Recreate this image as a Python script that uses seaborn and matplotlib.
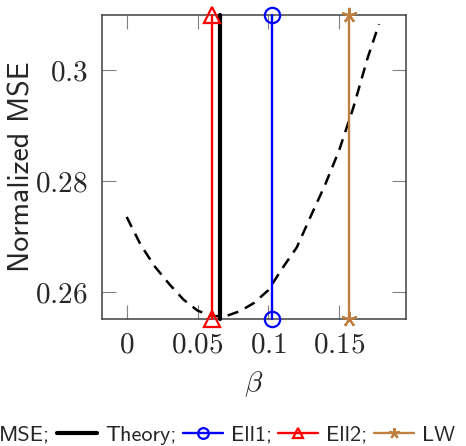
import matplotlib
matplotlib.use("Agg")
import matplotlib.pyplot as plt
import seaborn as sns
import pandas as pd

# dashed MSE curve vs beta
beta = [0.0, 0.01, 0.02, 0.03, 0.04, 0.05, 0.06, 0.07, 0.08, 0.09,
        0.10, 0.11, 0.12, 0.13, 0.14, 0.15, 0.16, 0.17, 0.178]
mse = [0.2735, 0.2684, 0.2645, 0.2614, 0.2586, 0.2566, 0.2556, 0.2556, 0.2565, 0.2580,
       0.2603, 0.2643, 0.2680, 0.2737, 0.2793, 0.2856, 0.2933, 0.3022, 0.3083]

# chosen beta of each method (vertical lines)
methods = ["Theory", "Ell1", "Ell2", "LW"]
method_beta = [0.0659, 0.1024, 0.0605, 0.1568]
method_color = ["black", "blue", "red", "#bf8040"]
method_marker = [None, "o", "^", (5, 2, 0)]

xlim = (-0.0177, 0.197)
ylim = (0.2551, 0.3100)
xticks = [0, 0.05, 0.1, 0.15]
yticks = [0.26, 0.28, 0.30]
xtick_labels = ["$0$", "$0.05$", "$0.1$", "$0.15$"]
ytick_labels = ["$0.26$", "$0.28$", "$0.3$"]

sns.set_style("white")
plt.rcParams["mathtext.fontset"] = "cm"
plt.rcParams["font.family"] = ["cmss10", "DejaVu Sans"]
plt.rcParams["axes.unicode_minus"] = False

fig = plt.figure(figsize=(4.66, 4.46), dpi=100)
ax = fig.add_axes([0.218, 0.285, 0.653, 0.682])

df = pd.DataFrame({"beta": beta, "mse": mse})
sns.lineplot(data=df, x="beta", y="mse", ax=ax, color="black", lw=1.8,
             dashes=False, label="MSE;", estimator=None)
ax.lines[-1].set_dashes((4.5, 3))

for name, b, c, m in zip(methods, method_beta, method_color, method_marker):
    vdf = pd.DataFrame({"beta": [b, b], "mse": list(ylim)})
    lw = 3.0 if name == "Theory" else 1.7
    lab = name if name == "LW" else name + ";"
    sns.lineplot(data=vdf, x="beta", y="mse", ax=ax, color=c, lw=lw,
                 marker=m, markersize=11, markerfacecolor="none",
                 markeredgecolor=c, markeredgewidth=1.6,
                 estimator=None, sort=False, label=lab, clip_on=False, zorder=3)

ax.set_xlim(*xlim)
ax.set_ylim(*ylim)
ax.set_xticks(xticks, xtick_labels, fontsize=21)
ax.set_yticks(yticks, ytick_labels, fontsize=21)
ax.tick_params(direction="in", length=10, width=0.8, color="#808080",
               top=True, right=True, bottom=True, left=True)
ax.tick_params(axis="x", pad=9)
ax.tick_params(axis="y", pad=10)
for s in ax.spines.values():
    s.set_color("#404040")
    s.set_linewidth(1.1)

ax.set_xlabel(r"$\beta$", fontsize=21, labelpad=8)
ax.set_ylabel("Normalized MSE", fontsize=21.5, labelpad=0)

handles, labels = ax.get_legend_handles_labels()
ax.get_legend().remove()
fig.legend(handles, labels, loc="center left", bbox_to_anchor=(-0.104, 0.025),
           ncol=5, frameon=False, fontsize=16, handlelength=1.8,
           handletextpad=0.35, columnspacing=0.3, borderpad=0, borderaxespad=0,
           markerscale=0.7)

fig.savefig("out.png", dpi=100)
